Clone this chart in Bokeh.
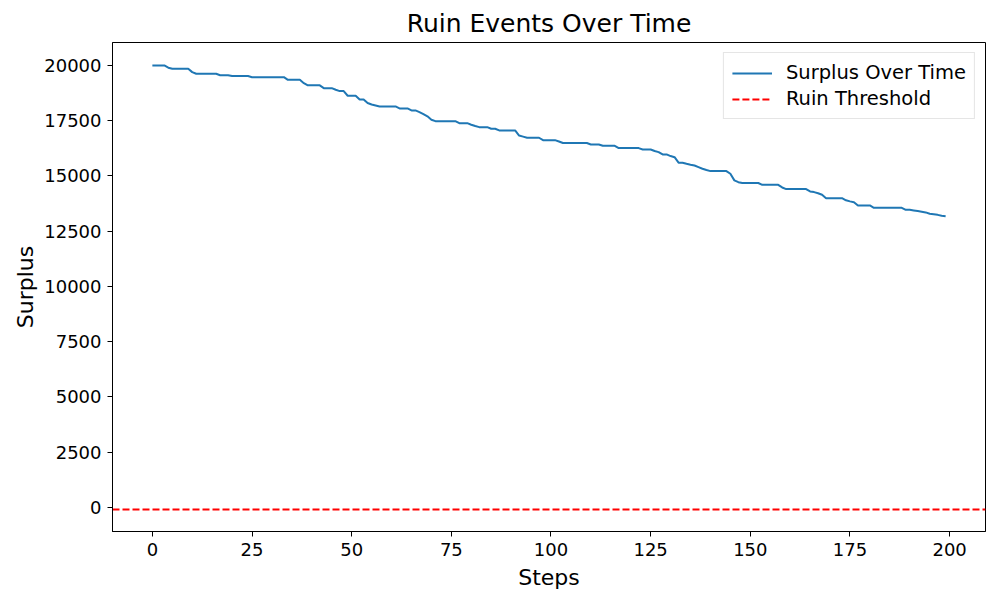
from bokeh.plotting import figure
from bokeh.models import Range1d, FixedTicker, Legend, LegendItem
from bokeh.embed import file_html
from bokeh.resources import INLINE

title_text = "Ruin Events Over Time"
x_label = "Steps"
y_label = "Surplus"
series_label = "Surplus Over Time"
threshold_label = "Ruin Threshold"
ruin_threshold = -100

surplus = [
    20000, 20000, 20000, 20000, 19900, 19850, 19850, 19850, 19850, 19850,
    19700, 19625, 19625, 19625, 19625, 19625, 19625, 19560, 19560, 19560,
    19520, 19520, 19520, 19520, 19520, 19470, 19470, 19470, 19470, 19470,
    19470, 19470, 19470, 19470, 19350, 19350, 19350, 19350, 19200, 19100,
    19100, 19100, 19100, 18975, 18975, 18975, 18900, 18840, 18840, 18630,
    18630, 18630, 18460, 18460, 18300, 18235, 18190, 18145, 18145, 18145,
    18145, 18145, 18055, 18055, 18055, 17965, 17965, 17890, 17800, 17700,
    17545, 17480, 17480, 17480, 17480, 17480, 17480, 17390, 17390, 17390,
    17320, 17260, 17210, 17210, 17210, 17135, 17135, 17060, 17060, 17060,
    17060, 17060, 16830, 16780, 16730, 16730, 16730, 16730, 16620, 16620,
    16620, 16620, 16560, 16490, 16490, 16490, 16490, 16490, 16490, 16490,
    16425, 16425, 16425, 16365, 16365, 16365, 16365, 16260, 16260, 16260,
    16260, 16260, 16260, 16200, 16200, 16200, 16130, 16080, 15975, 15975,
    15900, 15850, 15600, 15600, 15550, 15510, 15475, 15400, 15325, 15270,
    15220, 15220, 15220, 15220, 15220, 15100, 14800, 14720, 14680, 14680,
    14680, 14680, 14680, 14600, 14600, 14600, 14600, 14600, 14480, 14405,
    14405, 14405, 14405, 14405, 14405, 14300, 14270, 14220, 14150, 13995,
    13995, 13995, 13995, 13995, 13900, 13850, 13815, 13665, 13665, 13665,
    13665, 13560, 13560, 13560, 13560, 13560, 13560, 13560, 13560, 13470,
    13470, 13440, 13410, 13380, 13350, 13290, 13270, 13240, 13200, 13180,
]
steps = list(range(len(surplus)))

x_ticks = [0, 25, 50, 75, 100, 125, 150, 175, 200]
y_ticks = [0, 2500, 5000, 7500, 10000, 12500, 15000, 17500, 20000]

FONT = "DejaVu Sans"

p = figure(width=1000, height=600, output_backend="svg", toolbar_location=None,
           x_range=Range1d(-10, 209), y_range=Range1d(-1090, 21040),
           min_border_left=112, min_border_right=15, min_border_top=42, min_border_bottom=69)

p.title.text = title_text
p.title.align = "center"
p.title.text_font = FONT
p.title.text_font_size = "25px"
p.title.text_font_style = "normal"
p.title.text_color = "black"

line = p.line(steps, surplus, line_color="#1f77b4", line_width=2)
thr = p.line([-10, 209], [ruin_threshold, ruin_threshold], line_color="red",
             line_width=2, line_dash="7 3")

for ax in (p.xaxis[0], p.yaxis[0]):
    ax.axis_line_color = "black"
    ax.major_tick_line_color = "black"
    ax.major_tick_out = 5
    ax.major_tick_in = 0
    ax.minor_tick_line_color = None
    ax.major_label_standoff = 6
    ax.major_label_text_font = FONT
    ax.major_label_text_font_size = "18px"
    ax.major_label_text_color = "black"
    ax.axis_label_text_font = FONT
    ax.axis_label_text_font_size = "22px"
    ax.axis_label_text_font_style = "normal"
    ax.axis_label_text_color = "black"
    ax.axis_label_standoff = 6

p.xaxis[0].ticker = FixedTicker(ticks=x_ticks)
p.yaxis[0].ticker = FixedTicker(ticks=y_ticks)
p.xaxis[0].axis_label = x_label
p.yaxis[0].axis_label = y_label
p.yaxis[0].axis_label_standoff = 3
p.yaxis[0].major_label_orientation = "horizontal"

p.xgrid.visible = False
p.ygrid.visible = False
p.outline_line_color = "black"
p.outline_line_width = 1

legend = Legend(items=[LegendItem(label=series_label, renderers=[line]),
                       LegendItem(label=threshold_label, renderers=[thr])],
                location="top_right")
legend.label_text_font = FONT
legend.label_text_font_size = "19.5px"
legend.label_text_color = "black"
legend.border_line_color = "#cccccc"
legend.glyph_width = 40
legend.glyph_height = 22
legend.label_standoff = 14
legend.spacing = 3
legend.padding = 8
legend.margin = 10
legend.label_height = 22
p.add_layout(legend)

open("out.html", "w").write(file_html(p, INLINE))
